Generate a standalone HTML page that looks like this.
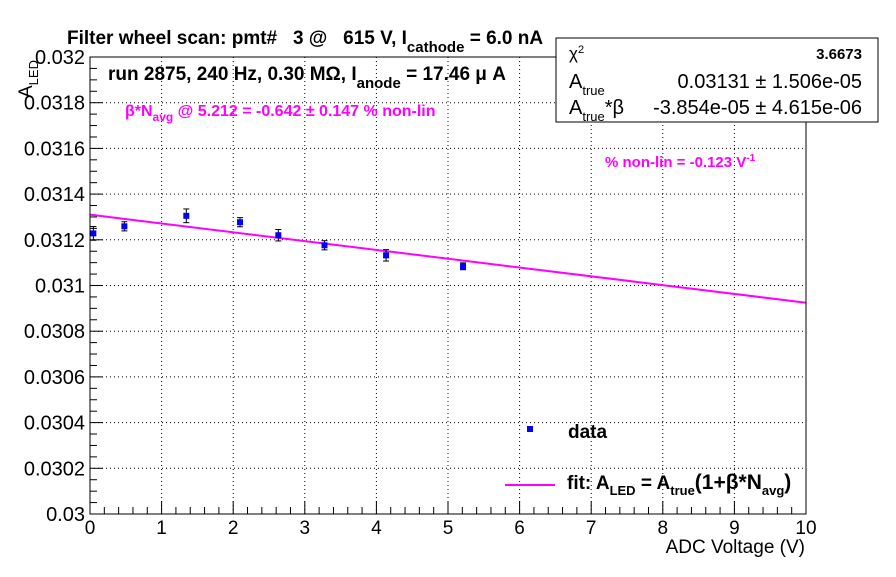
<!DOCTYPE html>
<html><head><meta charset="utf-8"><style>
body{margin:0;background:#fff;}
svg{font-family:"Liberation Sans",Arial,sans-serif;}
</style></head><body>
<svg id="c" width="896" height="572" viewBox="0 0 896 572">
<rect width="896" height="572" fill="#fff"/>
<g id="grid"></g><g id="ticks"></g><g id="fit"></g><g id="pts"></g>
<rect x="90" y="57" width="716" height="457" fill="none" stroke="#000" stroke-width="1"/>
<text x="67" y="44" font-size="19" font-weight="bold" xml:space="preserve">Filter wheel scan: pmt#   3 @   615 V, I<tspan font-size="15" dy="8">cathode</tspan><tspan dy="-8"> = 6.0 nA</tspan></text>
<text x="108" y="80" font-size="19" font-weight="bold">run 2875, 240 Hz, 0.30 MΩ, I<tspan font-size="15" dy="8">anode</tspan><tspan dy="-8"> = 17.46 μ A</tspan></text>
<text x="125" y="116" font-size="16" font-weight="bold" fill="#f0f">β*N<tspan font-size="12" dy="5">avg</tspan><tspan dy="-5"> @ 5.212 = -0.642 ± 0.147 % non-lin</tspan></text>
<text x="605" y="167" font-size="15" font-weight="bold" fill="#f0f">% non-lin = -0.123 V<tspan font-size="10" dy="-6">-1</tspan></text>
<g>
<rect x="556" y="38" width="322" height="84" fill="#fff" stroke="#000" stroke-width="1"/>
<text x="569" y="59" font-size="17">χ<tspan font-size="11" dy="-6">2</tspan></text>
<text x="862" y="59" font-size="15" font-weight="bold" text-anchor="end">3.6673</text>
<text x="569" y="88" font-size="20">A<tspan font-size="13" dy="7">true</tspan></text>
<text x="862" y="88" font-size="20" text-anchor="end">0.03131 ± 1.506e-05</text>
<text x="569" y="114" font-size="20">A<tspan font-size="13" dy="7">true</tspan><tspan dy="-7">*β</tspan></text>
<text x="862" y="114" font-size="20" text-anchor="end">-3.854e-05 ± 4.615e-06</text>
</g>
<g>
<rect x="527" y="426" width="6" height="6" fill="#00f"/>
<text x="568" y="438" font-size="19" font-weight="bold">data</text>
<line x1="505" y1="485" x2="555" y2="485" stroke="#f0f" stroke-width="2"/>
<text x="567" y="489" font-size="19" font-weight="bold">fit: A<tspan font-size="13" dy="6">LED</tspan><tspan dy="-6"> = A</tspan><tspan font-size="13" dy="6">true</tspan><tspan dy="-6" font-size="21">(1+β*N</tspan><tspan font-size="13" dy="6">avg</tspan><tspan dy="-6" font-size="21">)</tspan></text>
</g>
<text x="805" y="553" font-size="19" text-anchor="end">ADC Voltage (V)</text>
<text transform="translate(32,98) rotate(-90)" font-size="19">A<tspan font-size="13" dy="6">LED</tspan></text>
</svg>
<script>
const xVals=[0.047,0.48,1.345,2.095,2.63,3.275,4.135,5.21];
const yVals=[0.031228,0.031259,0.031305,0.031277,0.031220,0.031176,0.031132,0.031084];
const yErrs=[0.00003,0.00002,0.00003,0.00002,0.000025,0.00002,0.000025,0.000015];
const fitA=0.03131;
const fitAB=-3.854e-5;
const xTicks=[0,1,2,3,4,5,6,7,8,9,10];
const yTicks=[0.03,0.0302,0.0304,0.0306,0.0308,0.031,0.0312,0.0314,0.0316,0.0318,0.032];
const yTickLabels=["0.03","0.0302","0.0304","0.0306","0.0308","0.031","0.0312","0.0314","0.0316","0.0318","0.032"];
const NS="http://www.w3.org/2000/svg";
const X0=90,X1=806,Y0=514,Y1=57;
const xs=v=>X0+(v-0)/(10-0)*(X1-X0);
const ys=v=>Y0-(v-0.03)/(0.002)*(Y0-Y1);
function mk(tag,attrs,parent){const e=document.createElementNS(NS,tag);for(const k in attrs)e.setAttribute(k,attrs[k]);parent.appendChild(e);return e;}
const grid=document.getElementById('grid'),ticks=document.getElementById('ticks');
xTicks.forEach((t,i)=>{
 const x=xs(t);
 if(i>0&&i<xTicks.length-1){const g=mk('line',{x1:x,x2:x,y1:Y1,y2:Y0,stroke:'#000','stroke-dasharray':'1,3'},grid);
 
 }
 const tk=mk('line',{x1:x,x2:x,y1:Y0,y2:Y0-13,stroke:'#000'},ticks);
 
 
 if(i<xTicks.length-1){for(let m=1;m<5;m++){const xm=xs(t+m/5);mk('line',{x1:xm,x2:xm,y1:Y0,y2:Y0-7,stroke:'#000'},ticks);}}
 const lb=mk('text',{x:x,y:Y0+20,'font-size':19,'text-anchor':'middle'},ticks);lb.textContent=String(t);
 
 
});
yTicks.forEach((t,i)=>{
 const y=ys(t);
 if(i>0&&i<yTicks.length-1){const g=mk('line',{x1:X0,x2:X1,y1:y,y2:y,stroke:'#000','stroke-dasharray':'1,3'},grid);
 
 }
 const tk=mk('line',{x1:X0,x2:X0+13,y1:y,y2:y,stroke:'#000'},ticks);
 
 
 if(i<yTicks.length-1){for(let m=1;m<4;m++){const ym=ys(t+m*0.00005);mk('line',{x1:X0,x2:X0+7,y1:ym,y2:ym,stroke:'#000'},ticks);}}
 const lb=mk('text',{x:X0-5,y:y+7,'font-size':20,'text-anchor':'end'},ticks);lb.textContent=yTickLabels[i];
 
 
});
const fit=document.getElementById('fit');
const fl=mk('line',{x1:xs(0),y1:ys(fitA),x2:xs(10),y2:ys(fitA+fitAB*10),stroke:'#f0f','stroke-width':2},fit);


const pts=document.getElementById('pts');
xVals.forEach((xv,i)=>{
 const x=xs(xv),y=ys(yVals[i]),ye1=ys(yVals[i]+yErrs[i]),ye2=ys(yVals[i]-yErrs[i]);
 const g=mk('g',{},pts);
 
 
 mk('line',{x1:x,x2:x,y1:ye1,y2:ye2,stroke:'#000'},g);
 mk('line',{x1:x-3,x2:x+3,y1:ye1,y2:ye1,stroke:'#000'},g);
 mk('line',{x1:x-3,x2:x+3,y1:ye2,y2:ye2,stroke:'#000'},g);
 mk('rect',{x:x-3,y:y-3,width:6,height:6,fill:'#00f'},g);
});
</script>
</body></html>
